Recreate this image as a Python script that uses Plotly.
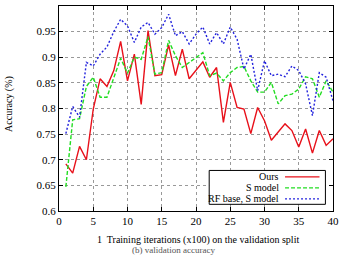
import plotly.graph_objects as go

steps = list(range(1, 41))

series_a = [0.692, 0.674, 0.726, 0.700, 0.799, 0.858, 0.843, 0.874, 0.931, 0.854,
            0.906, 0.808, 0.952, 0.864, 0.866, 0.924, 0.864, 0.916, 0.858, 0.875,
            0.891, 0.861, 0.880, 0.773, 0.851, 0.802, 0.799, 0.751, 0.802, 0.776,
            0.738, 0.754, 0.770, 0.757, 0.725, 0.760, 0.713, 0.757, 0.728, 0.741]

series_b = [0.647, 0.778, 0.780, 0.843, 0.861, 0.822, 0.822, 0.861, 0.898, 0.869,
            0.900, 0.896, 0.940, 0.867, 0.870, 0.933, 0.903, 0.880, 0.890, 0.900,
            0.909, 0.864, 0.869, 0.854, 0.870, 0.880, 0.882, 0.854, 0.832, 0.832,
            0.851, 0.809, 0.825, 0.828, 0.838, 0.862, 0.858, 0.822, 0.854, 0.832]

series_c = [0.751, 0.804, 0.783, 0.890, 0.883, 0.906, 0.920, 0.950, 0.974, 0.961,
            0.929, 0.959, 0.968, 0.945, 0.958, 0.984, 0.942, 0.950, 0.926, 0.945,
            0.959, 0.926, 0.948, 0.926, 0.959, 0.935, 0.877, 0.906, 0.835, 0.893,
            0.864, 0.867, 0.862, 0.883, 0.874, 0.848, 0.786, 0.870, 0.861, 0.815]

series_names = ["Ours", "S model", "RF base, S model"]
x_ticks = [0, 5, 10, 15, 20, 25, 30, 35, 40]
y_ticks = [0.6, 0.65, 0.7, 0.75, 0.8, 0.85, 0.9, 0.95, 1.0]

colors = ["#e8101a", "#22dd22", "#2222dd"]
dashes = ["solid", "4px,2px", "2px,2px"]

fig = go.Figure()
for ys, name, c, d in zip([series_a, series_b, series_c], series_names, colors, dashes):
    fig.add_trace(go.Scatter(x=steps, y=ys, mode="lines", name=name,
                             line=dict(color=c, width=1.4, dash=d),
                             showlegend=False))

font_family = "Liberation Serif"
axis_common = dict(showline=True, mirror="ticks", linecolor="black", linewidth=1,
                   ticks="inside", ticklen=4, tickcolor="black",
                   showgrid=True, gridcolor="#999999", griddash="dot", gridwidth=1,
                   zeroline=False,
                   tickfont=dict(family=font_family, size=11, color="black"))

fig.update_xaxes(range=[0, 40], tickvals=x_ticks, ticktext=[str(v) for v in x_ticks],
                 **axis_common)
fig.update_yaxes(range=[0.6, 1.0], tickvals=y_ticks,
                 ticktext=["0.6", "0.65", "0.7", "0.75", "0.8", "0.85", "0.9", "0.95", "1"],
                 **axis_common)

# manual gnuplot-style legend (text left, sample right)
x0p, x1p = 58.5, 336.7
y0p, y1p = 210.7, 5.0
def px(x):
    return (x - x0p) / (x1p - x0p)
def py(y):
    return (y0p - y) / (y0p - y1p)

shapes = [dict(type="rect", xref="paper", yref="paper",
               x0=px(211), x1=px(329), y0=py(204), y1=py(170),
               line=dict(color="black", width=1), fillcolor="white", layer="above")]
annos = []
rows = [176.5, 187.5, 198.5]
for name, c, d, yy in zip(series_names, colors, dashes, rows):
    shapes.append(dict(type="line", xref="paper", yref="paper",
                       x0=px(288), x1=px(323), y0=py(yy), y1=py(yy),
                       line=dict(color=c, width=1.4, dash=d), layer="above"))
    annos.append(dict(xref="paper", yref="paper", x=px(284), y=py(yy),
                      xanchor="right", yanchor="middle", showarrow=False,
                      text=name, font=dict(family=font_family, size=10, color="black")))

annos.append(dict(xref="paper", yref="paper", x=px(200), y=py(240),
                  xanchor="center", yanchor="middle", showarrow=False,
                  text="1  Training iterations (x100) on the validation split",
                  font=dict(family=font_family, size=10, color="black")))
annos.append(dict(xref="paper", yref="paper", x=px(175), y=py(249.5),
                  xanchor="center", yanchor="middle", showarrow=False,
                  text="(b) validation accuracy",
                  font=dict(family=font_family, size=9, color="#555555")))
annos.append(dict(xref="paper", yref="paper", x=px(7), y=py(103),
                  xanchor="center", yanchor="middle", showarrow=False, textangle=-90,
                  text="Accuracy (%)",
                  font=dict(family=font_family, size=10, color="black")))

fig.update_layout(width=344, height=255,
                  margin=dict(l=58.5, r=7.3, t=5, b=44.3),
                  paper_bgcolor="white", plot_bgcolor="white",
                  shapes=shapes, annotations=annos, showlegend=False)

fig.write_html("out.html")
